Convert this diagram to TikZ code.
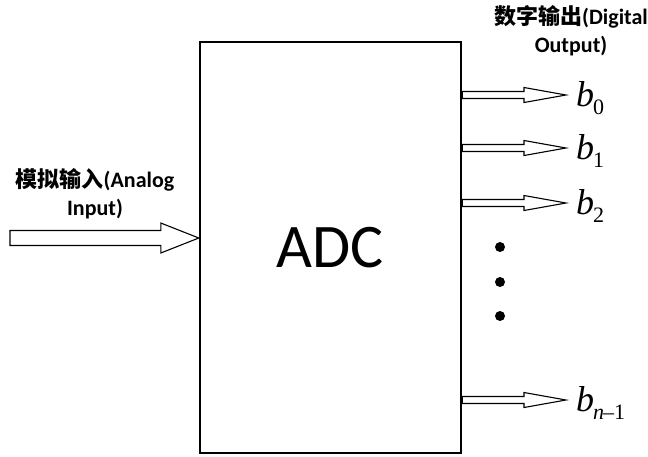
\documentclass[tikz,border=0pt]{standalone}
\usepackage{fontspec}
\setmainfont{Carlito}
\newfontfamily\cjk{Noto Sans CJK SC}
\newfontfamily\tms{Liberation Serif}
\usetikzlibrary{calc}
\newcommand{\bitname}[1]{{\fontsize{36}{36}\selectfont\itshape b}\kern-1pt\raisebox{-8pt}{\fontsize{22}{22}\selectfont #1}}

\begin{document}
\begin{tikzpicture}[
  x=1pt, y=-1pt,
  block/.style={
    draw=black,
    line width=2.4pt,
    minimum width=261pt,
    minimum height=411pt,
    inner sep=0pt,
    font=\fontsize{62}{62}\selectfont
  },
  lbl/.style={align=center, font=\fontsize{22}{28}\selectfont\bfseries},
  bit/.style={anchor=west, inner sep=0pt, font=\tms},
  hollow/.style n args={3}{
    draw=black, fill=white, line width=1.1pt, line join=miter,
    to path={let \p1=(\tikztostart), \p2=(\tikztotarget) in
      (\x1,\y1+#1) -- (\x2-#3,\y1+#1) -- (\x2-#3,\y1+#2) -- (\x2,\y1)
      -- (\x2-#3,\y1-#2) -- (\x2-#3,\y1-#1) -- (\x1,\y1-#1) -- cycle}
  },
  dot/.style={circle, fill=black, inner sep=0pt, minimum size=10pt},
]
\useasboundingbox (0,0) rectangle (648,456);

% Converter block.
\node[block] (adc) at (330.5,247.5) {ADC};

% Analog side.
\coordinate (ain) at (10,238);
\node[lbl] (alabel) at (95,194) {{\cjk\bfseries 模拟输入}(Analog\\Input)};
\draw[hollow={7.5pt}{15pt}{38pt}] (ain) to (adc.west |- ain);

% Digital side.
\node[lbl] (dlabel) at (571,31) {{\cjk\bfseries 数字输出}(Digital\\Output)};
\coordinate (t0) at (566,95);
\coordinate (t1) at (566,148);
\coordinate (t2) at (566,203);
\coordinate (tn) at (566,400);
\node[bit] (b0) at (576,98) {\bitname{0}};
\node[bit] (b1) at (576,151) {\bitname{1}};
\node[bit] (b2) at (576,206) {\bitname{2}};
\node[bit] (bn) at (576,403) {\bitname{{\itshape n}\kern-1pt\textendash1}};
\foreach \t in {t0,t1,t2,tn}
  \draw[hollow={3.5pt}{7.5pt}{42pt}] (adc.east |- \t) to (\t);

% Ellipsis.
\node[dot] (d1) at (500,247) {};
\node[dot] (d2) at (500,282) {};
\node[dot] (d3) at (500,316) {};

\end{tikzpicture}
\end{document}
